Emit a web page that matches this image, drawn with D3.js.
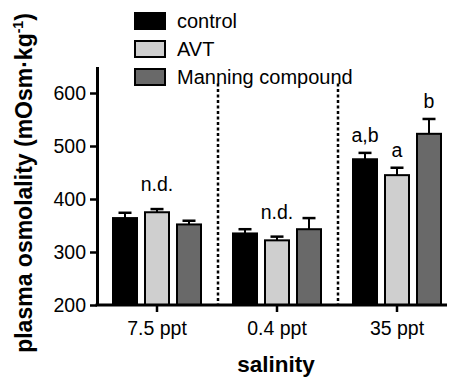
<!DOCTYPE html>
<html>
<head>
<meta charset="utf-8">
<script src="https://cdn.jsdelivr.net/npm/d3@7"></script>
<style>
  body { margin: 0; background: #fff; }
  svg { font-family: "Liberation Sans", Arial, sans-serif; display: block; }
</style>
</head>
<body>
<div id="chart-area"></div>
<script>
// data
var salinity = ["7.5 ppt", "0.4 ppt", "35 ppt"];
var treatments = ["control", "AVT", "Manning compound"];
var colorsList = ["#000000", "#cfcfcf", "#696969"];
var controlMean = [364, 335, 475];
var controlSem = [10, 8, 12];
var avtMean = [375, 322, 445];
var avtSem = [6, 7, 14];
var manningMean = [352, 343, 523];
var manningSem = [7, 21, 28];
var yTicks = [200, 300, 400, 500, 600];
// annotations: group index, treatment index, text
var notes = [
    { g: 0, t: 1, text: "n.d." },
    { g: 1, t: 1, text: "n.d." },
    { g: 2, t: 0, text: "a,b" },
    { g: 2, t: 1, text: "a" },
    { g: 2, t: 2, text: "b" }
];

var means = [controlMean, avtMean, manningMean];
var sems = [controlSem, avtSem, manningSem];

var data = [];
salinity.forEach(function(s, gi) {
    treatments.forEach(function(t, ti) {
        data.push({ group: s, treat: t, mean: means[ti][gi], sem: sems[ti][gi] });
    });
});

var svg = d3.select("#chart-area").append("svg")
    .attr("width", 452)
    .attr("height", 377);

var x0 = d3.scaleBand()
    .domain(salinity)
    .range([97, 457]);

var x1 = d3.scaleBand()
    .domain(treatments)
    .range([15, 105])
    .paddingInner(0.1875);

var y = d3.scaleLinear()
    .domain([200, 650])
    .range([305, 66.5]);

var color = d3.scaleOrdinal()
    .domain(treatments)
    .range(colorsList);

// dashed separators between salinity groups
svg.selectAll("line.sep")
    .data(salinity.slice(1))
    .enter()
    .append("line")
        .attr("class", "sep")
        .attr("x1", (d) => x0(d) + 1)
        .attr("x2", (d) => x0(d) + 1)
        .attr("y1", y(618))
        .attr("y2", y(200))
        .attr("stroke", "#000")
        .attr("stroke-width", 2.5)
        .attr("stroke-dasharray", "3,2.5");

// error bars (upper only)
var err = svg.append("g").selectAll("g")
    .data(data)
    .enter()
    .append("g")
        .attr("transform", (d) => "translate(" + (x0(d.group) + x1(d.treat) + x1.bandwidth() / 2) + ",0)");

err.append("line")
    .attr("x1", 0).attr("x2", 0)
    .attr("y1", (d) => y(d.mean))
    .attr("y2", (d) => y(d.mean + d.sem))
    .attr("stroke", "#000")
    .attr("stroke-width", 2);

err.append("line")
    .attr("x1", -6.5).attr("x2", 6.5)
    .attr("y1", (d) => y(d.mean + d.sem))
    .attr("y2", (d) => y(d.mean + d.sem))
    .attr("stroke", "#000")
    .attr("stroke-width", 2.5);

// bars
svg.append("g").selectAll("rect")
    .data(data)
    .enter()
    .append("rect")
        .attr("x", (d) => x0(d.group) + x1(d.treat) + 1)
        .attr("y", (d) => y(d.mean))
        .attr("width", x1.bandwidth() - 2)
        .attr("height", (d) => y(200) - y(d.mean))
        .attr("fill", (d) => color(d.treat))
        .attr("stroke", "#000")
        .attr("stroke-width", 2);

// annotations
svg.append("g").selectAll("text")
    .data(notes)
    .enter()
    .append("text")
        .attr("x", (d) => x0(salinity[d.g]) + x1(treatments[d.t]) + x1.bandwidth() / 2)
        .attr("y", (d) => y(means[d.t][d.g] + sems[d.t][d.g]) - (d.text == "n.d." ? 18 : 11))
        .attr("text-anchor", "middle")
        .attr("font-size", "19.5px")
        .text((d) => d.text);

// axes
var leftAxis = d3.axisLeft(y)
    .tickValues(yTicks)
    .tickSize(7)
    .tickSizeOuter(0)
    .tickPadding(4);

var yAxis = svg.append("g")
    .attr("transform", "translate(97,0)")
    .call(leftAxis);

var bottomAxis = d3.axisBottom(x0)
    .tickSize(7)
    .tickSizeOuter(0)
    .tickPadding(9);

var xAxis = svg.append("g")
    .attr("transform", "translate(0,305)")
    .call(bottomAxis);

[yAxis, xAxis].forEach(function(a) {
    a.select(".domain").attr("stroke-width", 3);
    a.selectAll(".tick line").attr("stroke-width", 2.5);
    a.selectAll(".tick text")
        .attr("font-size", "19.5px")
        .attr("font-family", "'Liberation Sans', Arial, sans-serif")
        .attr("fill", "#000");
});
xAxis.select(".domain").attr("d", "M95.5,0H447");

// axis titles
svg.append("text")
    .attr("x", 276)
    .attr("y", 372)
    .attr("text-anchor", "middle")
    .attr("font-size", "22.5px")
    .attr("font-weight", "bold")
    .text("salinity");

var yl = svg.append("text")
    .attr("transform", "translate(32,183) rotate(-90)")
    .attr("text-anchor", "middle")
    .attr("font-size", "23px")
    .attr("font-weight", "bold");
yl.append("tspan").text("plasma osmolality (mOsm\u00b7kg");
yl.append("tspan").attr("font-size", "14px").attr("dy", -9).text("-1");
yl.append("tspan").attr("dy", 9).text(")");

// legend
var legend = svg.append("g").selectAll("g")
    .data(treatments)
    .enter()
    .append("g")
        .attr("transform", (d, i) => "translate(135," + (13 + i * 28) + ")");

legend.append("rect")
    .attr("width", 30)
    .attr("height", 16)
    .attr("fill", (d) => color(d))
    .attr("stroke", "#000")
    .attr("stroke-width", 2);

legend.append("text")
    .attr("x", 42)
    .attr("y", 15)
    .attr("font-size", "20px")
    .text((d) => d);
</script>
</body>
</html>
